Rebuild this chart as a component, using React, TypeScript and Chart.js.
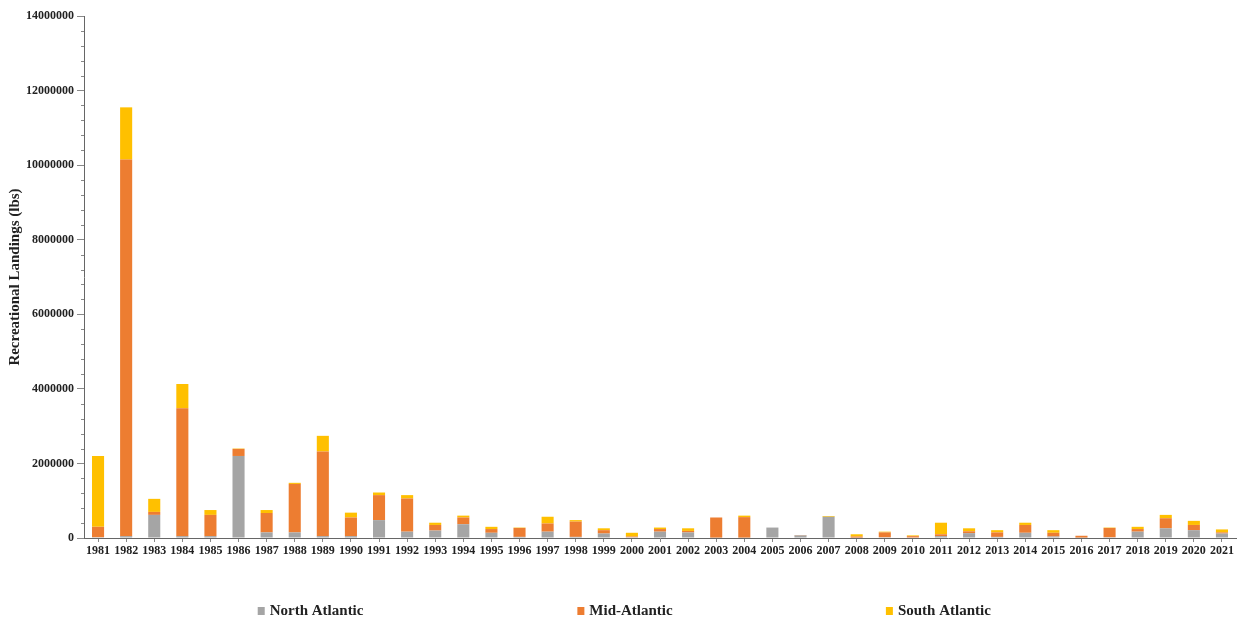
import React, { useEffect, useRef } from "react";
import { Chart, registerables } from "chart.js";

Chart.register(...registerables);

const years = [
  "1981","1982","1983","1984","1985","1986","1987","1988","1989","1990",
  "1991","1992","1993","1994","1995","1996","1997","1998","1999","2000",
  "2001","2002","2003","2004","2005","2006","2007","2008","2009","2010",
  "2011","2012","2013","2014","2015","2016","2017","2018","2019","2020","2021",
];

const northAtlantic = [
  20000, 50000, 620000, 50000, 50000, 2200000, 150000, 150000, 50000, 50000,
  480000, 170000, 200000, 370000, 140000, 30000, 170000, 30000, 120000, 20000,
  170000, 150000, 10000, 10000, 280000, 70000, 570000, 10000, 20000, 0,
  50000, 130000, 30000, 140000, 40000, 10000, 20000, 170000, 260000, 210000, 120000,
];

const midAtlantic = [
  280000, 10100000, 80000, 3430000, 570000, 190000, 520000, 1300000, 2270000, 500000,
  670000, 890000, 150000, 180000, 100000, 240000, 220000, 410000, 90000, 20000,
  70000, 40000, 540000, 550000, 0, 10000, 0, 30000, 130000, 50000,
  50000, 50000, 120000, 210000, 100000, 50000, 250000, 70000, 270000, 140000, 30000,
];

const southAtlantic = [
  1900000, 1400000, 350000, 650000, 130000, 10000, 80000, 30000, 420000, 130000,
  70000, 90000, 60000, 50000, 60000, 10000, 180000, 40000, 50000, 100000,
  40000, 70000, 0, 40000, 0, 0, 20000, 60000, 20000, 20000,
  310000, 80000, 60000, 60000, 70000, 0, 10000, 60000, 90000, 110000, 80000,
];

const seriesNames = ["North Atlantic", "Mid-Atlantic", "South Atlantic"];
const seriesColors = ["#A5A5A5", "#ED7D31", "#FFC000"];
const yMax = 14000000;
const yMajorStep = 2000000;
const yMinorStep = 400000;

const FONT = '"Liberation Serif", "Times New Roman", serif';

const legendPlugin = {
  id: "customLegend",
  afterDraw(chart: any) {
    const ctx = chart.ctx;
    const w = chart.width;
    const xs = [0.208 * w, 0.466 * w, 0.715 * w];
    const y = 611;
    ctx.save();
    ctx.font = `bold 15px ${FONT}`;
    ctx.textBaseline = "middle";
    ctx.textAlign = "left";
    seriesNames.forEach((name, i) => {
      ctx.fillStyle = seriesColors[i];
      ctx.fillRect(xs[i], y - 4, 7, 8);
      ctx.fillStyle = "#222";
      ctx.fillText(name, xs[i] + 12, y);
    });
    ctx.restore();
  },
};

const minorTickPlugin = {
  id: "minorTicks",
  afterDraw(chart: any) {
    const ctx = chart.ctx;
    const y = chart.scales.y;
    const x0 = chart.chartArea.left;
    ctx.save();
    ctx.strokeStyle = "#888";
    ctx.lineWidth = 1;
    for (let v = 0; v <= yMax; v += yMinorStep) {
      if (v % yMajorStep === 0) continue;
      const py = Math.round(y.getPixelForValue(v)) + 0.5;
      ctx.beginPath();
      ctx.moveTo(x0 - 3, py);
      ctx.lineTo(x0, py);
      ctx.stroke();
    }
    ctx.restore();
  },
};

export default function App() {
  const ref = useRef<HTMLCanvasElement>(null);
  useEffect(() => {
    document.body.style.margin = "0";
    const chart = new Chart(ref.current!, {
      type: "bar",
      data: {
        labels: years,
        datasets: [
          { label: seriesNames[0], data: northAtlantic, backgroundColor: seriesColors[0] },
          { label: seriesNames[1], data: midAtlantic, backgroundColor: seriesColors[1] },
          { label: seriesNames[2], data: southAtlantic, backgroundColor: seriesColors[2] },
        ],
      },
      options: {
        animation: false,
        responsive: false,
        maintainAspectRatio: false,
        layout: { padding: { left: 4, right: 3, top: 16, bottom: 55 } },
        datasets: { bar: { categoryPercentage: 1, barPercentage: 0.43 } },
        plugins: {
          legend: { display: false },
          tooltip: { enabled: false },
        },
        scales: {
          x: {
            stacked: true,
            afterFit: (s: any) => { s.height = 30; },
            grid: {
              display: true,
              drawOnChartArea: false,
              offset: false,
              tickLength: 4,
              color: "#888",
            },
            border: { display: true, color: "#666", width: 1 },
            ticks: {
              color: "#222",
              font: { family: FONT, size: 12, weight: "bold" },
              padding: 2,
              maxRotation: 0,
              autoSkip: false,
            },
          },
          y: {
            stacked: true,
            min: 0,
            max: yMax,
            afterFit: (s: any) => { s.width = 80; },
            grid: {
              display: true,
              drawOnChartArea: false,
              tickLength: 7,
              color: "#888",
            },
            border: { display: true, color: "#666", width: 1 },
            ticks: {
              stepSize: yMajorStep,
              color: "#222",
              font: { family: FONT, size: 12, weight: "bold" },
              padding: 3,
              callback: (v: any) => String(Math.round(v)),
            },
            title: {
              display: true,
              text: "Recreational Landings (lbs)",
              color: "#222",
              font: { family: FONT, size: 15, weight: "bold" },
              padding: { top: 2, bottom: 2 },
            },
          },
        },
      },
      plugins: [legendPlugin, minorTickPlugin],
    });
    return () => chart.destroy();
  }, []);
  return <canvas ref={ref} width={1239} height={623} style={{ display: "block" }} />;
}
